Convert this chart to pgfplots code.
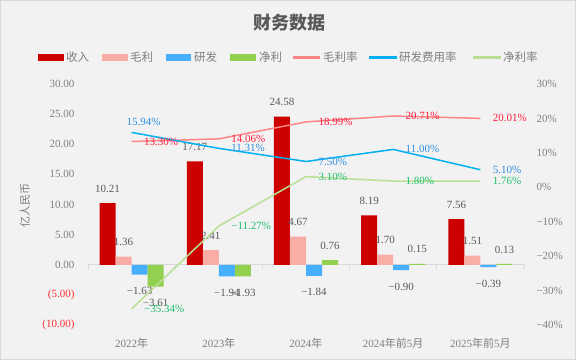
\documentclass[border=0pt]{standalone}
\usepackage{fontspec}
\setmainfont{Liberation Serif}
\newfontfamily\cjk{Noto Sans CJK SC}
\usepackage{pgfplots}
\pgfplotsset{compat=1.18}
\pgfdeclarelayer{bg}
\pgfsetlayers{bg,main}
\definecolor{bgc}{HTML}{F2F2F2}
\definecolor{framec}{HTML}{D9D9D9}
\definecolor{titlec}{HTML}{595959}
\definecolor{tickc}{HTML}{7F7F7F}
\definecolor{lblc}{HTML}{595959}
\definecolor{negc}{HTML}{FF3030}
\definecolor{cRev}{HTML}{CC0000}
\definecolor{cGross}{HTML}{FAADA5}
\definecolor{cRD}{HTML}{47AFFF}
\definecolor{cNet}{HTML}{92D050}
\definecolor{lRed}{HTML}{FF8585}
\definecolor{lBlue}{HTML}{00B0F0}
\definecolor{lGreen}{HTML}{B8DF94}
\definecolor{tRed}{HTML}{FF2040}
\definecolor{tBlue}{HTML}{2F8FE0}
\definecolor{tGreen}{HTML}{1FBF6F}
\newcommand{\fs}{\fontsize{11}{13}\selectfont}
\newcommand{\fl}{\fontsize{11.5}{13}\selectfont}
\begin{document}
\begin{tikzpicture}[x=1pt,y=1pt]
\begin{axis}[width=436pt, height=241pt, scale only axis,
  xmin=-0.5, xmax=4.5, ymin=-10, ymax=30, clip=false,
  axis line style={draw=none}, tick style={draw=none},
  ytick={-10,-5,0,5,10,15,20,25,30},
  yticklabels={\textcolor{negc}{(10.00)},\textcolor{negc}{(5.00)},0.00,5.00,10.00,15.00,20.00,25.00,30.00},
  xtick={0,1,2,3,4},
  xticklabels={2022{\cjk 年},2023{\cjk 年},2024{\cjk 年},2024{\cjk 年前}5{\cjk 月},2025{\cjk 年前}5{\cjk 月}},
  ticklabel style={font=\fs, text=tickc},
  yticklabel style={xshift=-10pt},
  xticklabel style={yshift=-5pt},
  ybar=0pt, bar width=16pt,
  nodes near coords, point meta=explicit symbolic,
  visualization depends on={rawy \as \ry},
  nodes near coords align={anchor=center},
  nodes near coords style={font=\fs, text=lblc, yshift={(\ry<0) ? -16.5 : 14.5}},
]
\coordinate (O) at (axis cs:-0.5,-10);
\draw[framec, line width=0.8pt] (axis cs:-0.5,0) -- (axis cs:4.5,0);
\pgfplotsinvokeforeach{-0.5,0.5,1.5,2.5,3.5,4.5}{\draw[framec, line width=0.8pt] (axis cs:#1,0) -- ++(0pt,-4pt);}
\addplot[fill=cRev, draw=none] coordinates {(0,10.21)[10.21] (1,17.17)[17.17] (2,24.58)[24.58] (3,8.19)[8.19] (4,7.56)[7.56]};
\addplot[fill=cGross, draw=none] coordinates {(0,1.36)[1.36] (1,2.41)[2.41] (2,4.67)[4.67] (3,1.70)[1.70] (4,1.51)[1.51]};
\addplot[fill=cRD, draw=none] coordinates {(0,-1.63)[−1.63] (1,-1.94)[−1.94] (2,-1.84)[−1.84] (3,-0.90)[−0.90] (4,-0.39)[−0.39]};
\addplot[fill=cNet, draw=none] coordinates {(0,-3.61)[−3.61] (1,-1.93)[−1.93] (2,0.76)[0.76] (3,0.15)[0.15] (4,0.13)[0.13]};
\end{axis}

\begin{axis}[width=436pt, height=241pt, scale only axis,
  xmin=-0.5, xmax=4.5, ymin=-40, ymax=30, clip=false,
  axis line style={draw=none}, tick style={draw=none},
  xtick=\empty,
  ytick={-40,-30,-20,-10,0,10,20,30},
  yticklabels={−40\%,−30\%,−20\%,−10\%,0\%,10\%,20\%,30\%},
  yticklabel pos=right,
  ticklabel style={font=\fs, text=tickc},
  yticklabel style={xshift=9pt},
  point meta=explicit symbolic,
]
\addplot[lRed, line width=1.5pt, mark=none] coordinates {(0,13.30) (1,14.06) (2,18.99) (3,20.71) (4,20.01)};
\addplot[lBlue, line width=1.5pt, mark=none] coordinates {(0,15.94) (1,11.31) (2,7.50) (3,11.00) (4,5.10)};
\addplot[lGreen, line width=1.5pt, mark=none] coordinates {(0,-35.34) (1,-11.27) (2,3.10) (3,1.80) (4,1.76)};
\addplot[draw=none, mark=none, nodes near coords, nodes near coords align={anchor=west},
  nodes near coords style={font=\fs, text=tRed, xshift=9pt}]
  coordinates {(0,13.30)[13.30\%] (1,14.06)[14.06\%] (2,18.99)[18.99\%] (3,20.71)[20.71\%] (4,20.01)[20.01\%]};
\addplot[draw=none, mark=none, nodes near coords, nodes near coords align={anchor=west},
  nodes near coords style={font=\fs, text=tBlue, xshift=9pt}]
  coordinates {(1,11.31)[11.31\%] (2,7.50)[7.50\%] (3,11.00)[11.00\%] (4,5.10)[5.10\%]};
\addplot[draw=none, mark=none, nodes near coords, nodes near coords align={anchor=south},
  nodes near coords style={font=\fs, text=tBlue, xshift=12pt, yshift=3pt}]
  coordinates {(0,15.94)[15.94\%]};
\addplot[draw=none, mark=none, nodes near coords, nodes near coords align={anchor=west},
  nodes near coords style={font=\fs, text=tGreen, xshift=9pt}]
  coordinates {(0,-35.34)[−35.34\%] (1,-11.27)[−11.27\%] (2,3.10)[3.10\%] (3,1.80)[1.80\%] (4,1.76)[1.76\%]};
\end{axis}

\begin{scope}[shift={(O)}, xshift=-88pt, yshift=-35pt]
\begin{pgfonlayer}{bg}
\fill[bgc] (0,0) rectangle (576,360);
\draw[framec] (0.5,0.5) rectangle (575.5,359.5);
\end{pgfonlayer}
\node[font=\cjk\bfseries\fontsize{18}{21}\selectfont, text=titlec] at (289,337) {财务数据};
\fill[cRev] (38,299) rectangle (64,306);
\node[anchor=west, inner sep=0pt, font=\cjk\fl, text=tickc] at (66,302.5) {收入};
\fill[cGross] (102,299) rectangle (128,306);
\node[anchor=west, inner sep=0pt, font=\cjk\fl, text=tickc] at (130,302.5) {毛利};
\fill[cRD] (166,299) rectangle (191,306);
\node[anchor=west, inner sep=0pt, font=\cjk\fl, text=tickc] at (194,302.5) {研发};
\fill[cNet] (230,299) rectangle (256,306);
\node[anchor=west, inner sep=0pt, font=\cjk\fl, text=tickc] at (259,302.5) {净利};
\fill[lRed] (293,301.3) rectangle (320,303.7);
\node[anchor=west, inner sep=0pt, font=\cjk\fl, text=tickc] at (323,302.5) {毛利率};
\fill[lBlue] (369,301.3) rectangle (397,303.7);
\node[anchor=west, inner sep=0pt, font=\cjk\fl, text=tickc] at (399,302.5) {研发费用率};
\fill[lGreen] (473,301.3) rectangle (501,303.7);
\node[anchor=west, inner sep=0pt, font=\cjk\fl, text=tickc] at (503,302.5) {净利率};
\node[rotate=90, font=\cjk\fs, text=tickc] at (25,155) {亿人民币};
\end{scope}
\end{tikzpicture}
\end{document}
